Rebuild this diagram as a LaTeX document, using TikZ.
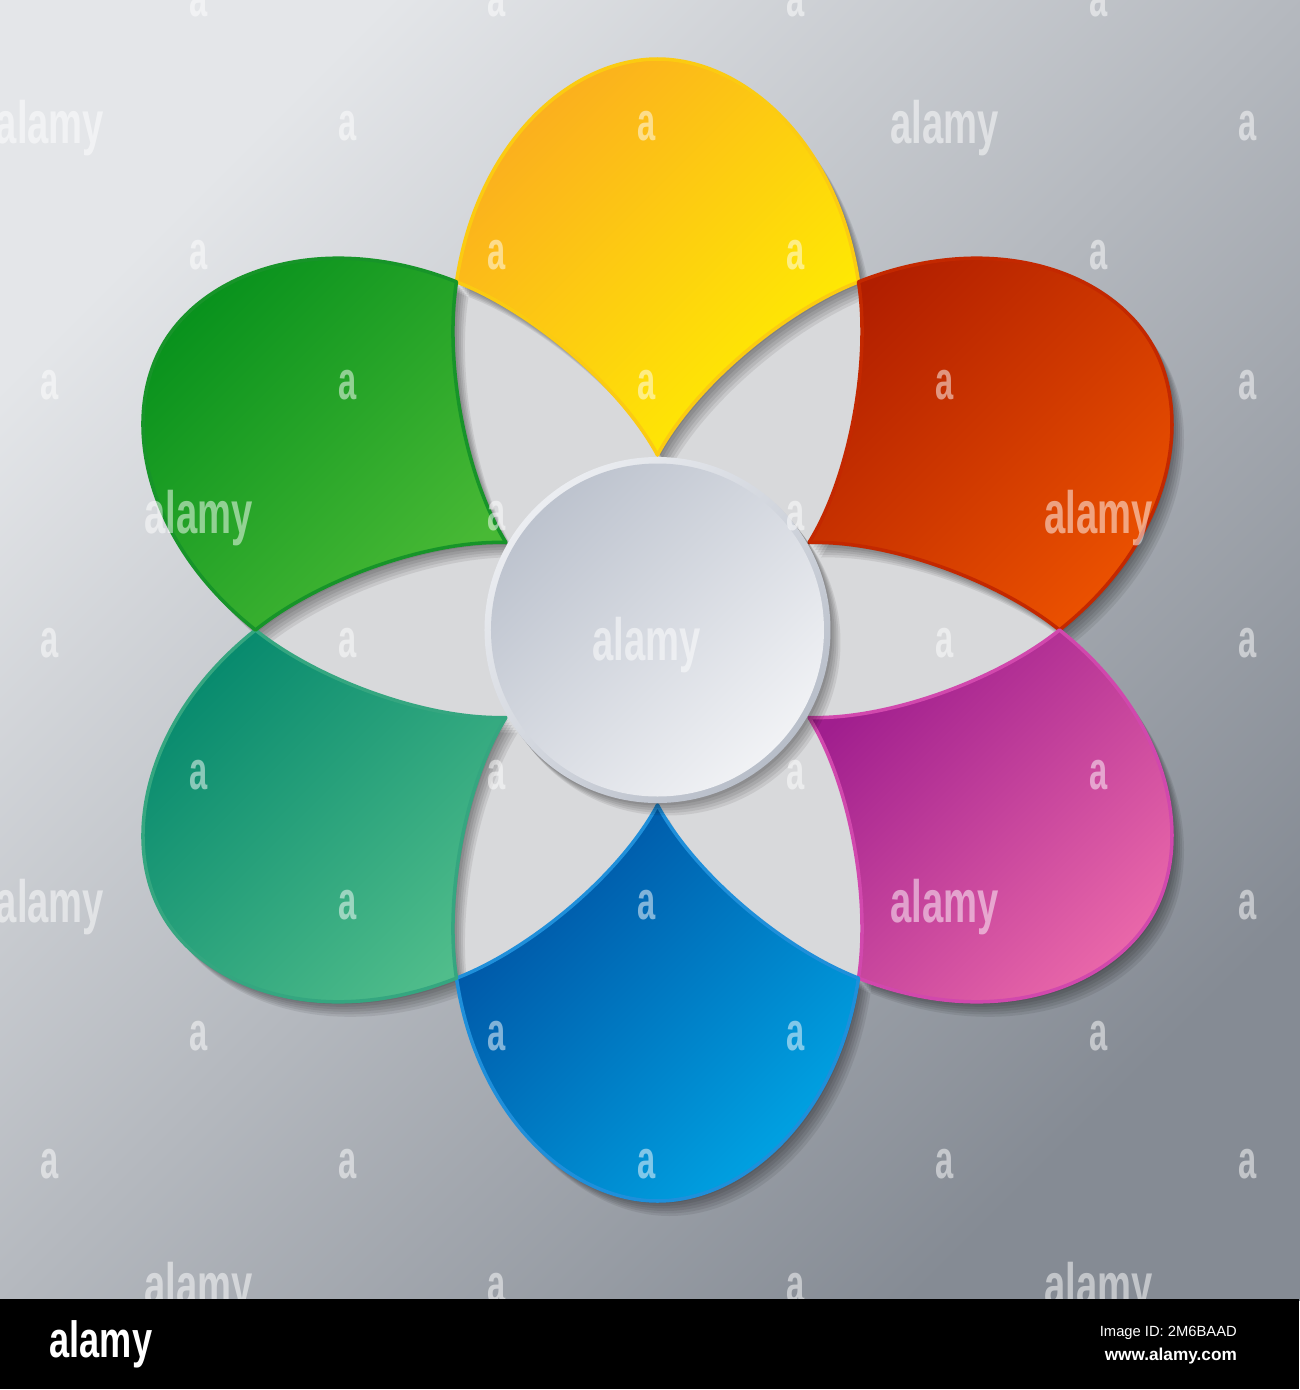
\documentclass[tikz,border=0pt]{standalone}
\usepackage{fontspec}
\usepackage{graphicx}
\usepackage{tikz}
\newfontfamily\alamyfont{Liberation Sans}
\definecolor{bglight}{HTML}{E4E6E9}
\definecolor{bgdark}{HTML}{858B94}
\definecolor{lensgray}{HTML}{D8D9DB}
\definecolor{ringlight}{HTML}{EBEDF1}
\definecolor{ringdark}{HTML}{B8BEC9}
\definecolor{disclight}{HTML}{F1F2F5}
\definecolor{discdark}{HTML}{BDC3CE}
\definecolor{yellowtop}{HTML}{FBAE1F}
\definecolor{yellowbot}{HTML}{FFEF00}
\definecolor{yellowedge}{HTML}{FBCB12}
\definecolor{orangetop}{HTML}{B11E00}
\definecolor{orangebot}{HTML}{EC5200}
\definecolor{orangeedge}{HTML}{C32800}
\definecolor{pinktop}{HTML}{A01E8E}
\definecolor{pinkbot}{HTML}{EE6CAB}
\definecolor{pinkedge}{HTML}{D148AD}
\definecolor{bluetop}{HTML}{0051A2}
\definecolor{bluebot}{HTML}{00A3E3}
\definecolor{blueedge}{HTML}{1F8FDA}
\definecolor{tealtop}{HTML}{06896D}
\definecolor{tealbot}{HTML}{50BD8B}
\definecolor{tealedge}{HTML}{35A680}
\definecolor{greentop}{HTML}{048F1B}
\definecolor{greenbot}{HTML}{48B935}
\definecolor{greenedge}{HTML}{179429}

\begin{document}
\begin{tikzpicture}[
	shadowlayer/.style={fill=black, fill opacity=0.08, transform canvas={shift={(0.02*#1,-0.025*#1)}}},
	wmletter/.style={anchor=base, text=white, opacity=0.5, font=\alamyfont\bfseries\fontsize{15.5pt}{15.5pt}\selectfont},
	wmword/.style={anchor=base, text=white, opacity=0.5, font=\alamyfont\bfseries\fontsize{17pt}{17pt}\selectfont}
	]
	\def\hexrad{4.02}
	\def\tiprad{1.75}
	\def\discrad{1.73}
	\def\ringw{0.065}
	\def\petal#1{(#1t) .. controls (#1r1) and (#1r2) .. (#1r) .. controls (#1r3) and (#1o1) .. (#1o) .. controls (#1o2) and (#1l3) .. (#1l) .. controls (#1l2) and (#1l1) .. (#1t) -- cycle}

	\useasboundingbox (-6.575,-7.6) rectangle (6.425,6.3);
	\shade[top color=bglight, bottom color=bgdark, shading angle=45] (-6.575,-6.7) rectangle (6.425,6.3);

	\foreach \ang/\nm in {90/Y, 30/R, -30/P, -90/B, -150/T, 150/G}{
		\begin{scope}[rotate=\ang-90]
			\coordinate (\nm t) at (0,\tiprad);
			\coordinate (\nm r1) at (0.371,2.442);
			\coordinate (\nm r2) at (1.267,3.194);
			\coordinate (\nm r) at (60:\hexrad);
			\coordinate (\nm r3) at (1.8,4.9);
			\coordinate (\nm o1) at (0.85,5.71);
			\coordinate (\nm o) at (0,5.71);
			\coordinate (\nm o2) at (-0.85,5.71);
			\coordinate (\nm l3) at (-1.8,4.9);
			\coordinate (\nm l) at (120:\hexrad);
			\coordinate (\nm l2) at (-1.267,3.194);
			\coordinate (\nm l1) at (-0.371,2.442);
		\end{scope}
	}

	\fill[lensgray] (0:\hexrad) -- (60:\hexrad) -- (120:\hexrad) -- (180:\hexrad) -- (240:\hexrad) -- (300:\hexrad) -- cycle;

	\foreach \nm in {Y, R, P, B, T, G}
		\foreach \s in {1,...,6}
			\fill[shadowlayer=\s] \petal{\nm};

	\foreach \nm/\ctop/\cbot/\cedge in {Y/yellowtop/yellowbot/yellowedge, R/orangetop/orangebot/orangeedge, P/pinktop/pinkbot/pinkedge, B/bluetop/bluebot/blueedge, T/tealtop/tealbot/tealedge, G/greentop/greenbot/greenedge}
		\shade[top color=\ctop, bottom color=\cbot, shading angle=45, draw=\cedge, line width=1pt, line join=round] \petal{\nm};

	\foreach \s in {1,...,5}
		\fill[shadowlayer=\s] (0,0) circle (\discrad);
	\shade[top color=ringlight, bottom color=ringdark, shading angle=45] (0,0) circle (\discrad);
	\shade[top color=discdark, bottom color=disclight, shading angle=45] (0,0) circle ({\discrad-\ringw});

	\begin{scope}[shift={(-6.575,6.3)}, x=0.01cm, y={(0,-0.01cm)}]
		\foreach \yy/\xlist in {4/{199,497,796,1099}, 128/{348,647,1248}, 257/{199,497,796,1099}, 387/{50,348,647,945,1248}, 518/{497,796}, 645/{50,348,945,1248}, 777/{199,497,796,1099}, 907/{348,647,1248}, 1038/{199,497,796,1099}, 1166/{50,348,647,945,1248}, 1290/{497,796}}
			\foreach \xx in \xlist
				\node[wmletter] at (\xx,\yy+13) {\scalebox{0.6}[1]{a}};
		\foreach \xx/\yy in {50/128, 945/128, 199/518, 1099/518, 647/645, 50/907, 945/907, 199/1290, 1099/1290}
			\node[wmword] at (\xx,\yy+16) {\scalebox{0.64}[1]{alamy}};

		\fill[black] (0,1300) rectangle (1300,1390);
		\node[anchor=base, text=white, font=\alamyfont\bfseries\fontsize{14.5pt}{14.5pt}\selectfont] (logo) at (101,1358) {\scalebox{0.71}[1]{alamy}};
		\node[anchor=base east, text=white, font=\alamyfont\fontsize{4.2pt}{4.2pt}\selectfont] (imageid) at (1250,1337) {Image ID: 2M6BAAD};
		\node[anchor=base east, text=white, font=\alamyfont\bfseries\fontsize{4.9pt}{4.9pt}\selectfont] (website) at (1250,1361) {www.alamy.com};
	\end{scope}
\end{tikzpicture}
\end{document}
